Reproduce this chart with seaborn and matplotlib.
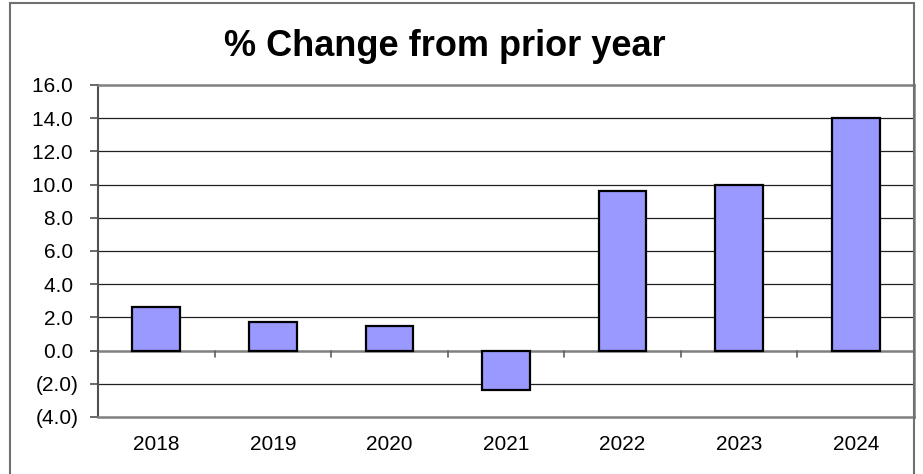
import matplotlib
matplotlib.use("Agg")
import matplotlib.pyplot as plt
import seaborn as sns
import pandas as pd
from matplotlib.patches import Rectangle

years = ["2018", "2019", "2020", "2021", "2022", "2023", "2024"]
pct_change = [2.6, 1.7, 1.5, -2.4, 9.6, 10.0, 14.0]
y_ticks = [-4, -2, 0, 2, 4, 6, 8, 10, 12, 14, 16]
title = "% Change from prior year"

sns.set_theme(style="white")
plt.rcParams["font.family"] = ["Liberation Sans", "DejaVu Sans"]

df = pd.DataFrame({"year": years, "pct": pct_change})

fig = plt.figure(figsize=(9.23, 4.74), dpi=100)
ax = fig.add_axes([98 / 923, 1 - 417 / 474, (914 - 98) / 923, (417 - 85) / 474])

sns.barplot(data=df, x="year", y="pct", color="#9999FF", saturation=1,
            edgecolor="black", linewidth=1.6, width=0.41, ax=ax, zorder=3)

ax.set_ylim(-4, 16)
ax.set_xlim(-0.5, len(years) - 0.5)
ax.set_yticks(y_ticks)


def fmt(v):
    return f"({abs(v):.1f})" if v < 0 else f"{v:.1f} "


ax.set_yticklabels([fmt(v) for v in y_ticks])
ax.set_xlabel("")
ax.set_ylabel("")

# horizontal gridlines
for v in y_ticks:
    if v in (-4, 0, 16):
        continue
    ax.axhline(v, color="#202020", linewidth=0.9, zorder=1)
# zero axis line
ax.axhline(0, color="#808080", linewidth=1.8, zorder=2)
for i in range(1, len(years)):
    ax.plot([i - 0.5, i - 0.5], [0, -0.36], color="#606060", linewidth=1.2,
            zorder=2, clip_on=False)

for s in ["top", "right", "bottom"]:
    ax.spines[s].set_color("#808080")
    ax.spines[s].set_linewidth(1.8)
ax.spines["left"].set_color("#505050")
ax.spines["left"].set_linewidth(1.5)

ax.tick_params(axis="y", which="both", left=True, length=6, width=1.2,
               color="#505050", pad=8, labelsize=15, labelcolor="black")
ax.tick_params(axis="x", which="both", bottom=False, length=0, pad=13,
               labelsize=15, labelcolor="black")

fig.text(445 / 923, 1 - 46 / 474, title, ha="center", va="center",
         fontsize=26, fontweight="bold", color="black")

# outer chart border
fig.patches.append(Rectangle((10 / 923, -0.02), (914 - 10) / 923, 1.02 - 3 / 474,
                             transform=fig.transFigure, fill=False,
                             edgecolor="#707070", linewidth=1.5))

fig.savefig("out.png", dpi=100, facecolor="white")
